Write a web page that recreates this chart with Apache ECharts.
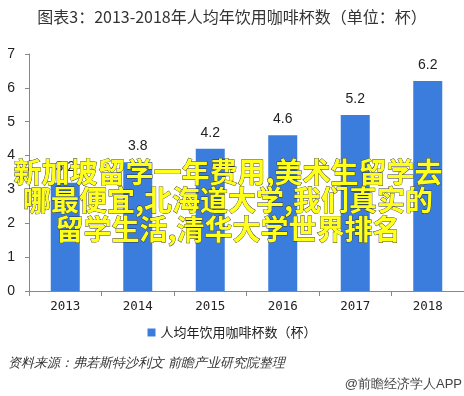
<!DOCTYPE html>
<html><head><meta charset="utf-8">
<script src="https://cdn.jsdelivr.net/npm/echarts@6/dist/echarts.min.js"></script>
<style>html,body{margin:0;padding:0;background:#fff}#c{width:464px;height:396px}</style>
</head><body><div id="c"></div>
<script>
const categories = ['2013','2014','2015','2016','2017','2018'];
const values = [3.2, 3.8, 4.2, 4.6, 5.2, 6.2];
const yTicks = [0,1,2,3,4,5,6,7];
const seriesName = '人均年饮用咖啡杯数（杯）';
const titleText = '图表3：2013-2018年人均年饮用咖啡杯数（单位：杯）';
const sourceText = '资料来源：弗若斯特沙利文 前瞻产业研究院整理';
const creditText = '@前瞻经济学人APP';
const overlayLines = ['新加坡留学一年费用,美术生留学去','哪最便宜,北海道大学,我们真实的','留学生活,清华大学世界排名'];

const chart = echarts.init(document.getElementById('c'), null, {renderer:'canvas'});
const font = '"Noto Sans CJK SC","Liberation Sans",sans-serif';
chart.setOption({
  animation:false,
  backgroundColor:'#fff',
  title:{text:titleText,left:'center',top:4,textStyle:{fontSize:16,fontWeight:'normal',color:'#333',fontFamily:font}},
  legend:{data:[seriesName],bottom:52,left:'center',itemWidth:8,itemHeight:8,itemGap:4,icon:'rect',
    textStyle:{fontSize:13,color:'#222',fontFamily:font}},
  grid:{left:29,top:54,width:444,height:237},
  xAxis:{type:'category',data:categories,
    axisLine:{lineStyle:{color:'#888'}},
    axisTick:{show:true,length:5,lineStyle:{color:'#888'}},
    axisLabel:{fontSize:12.5,color:'#222',margin:9,fontFamily:'"DejaVu Sans Mono","Liberation Mono",monospace'}},
  yAxis:{type:'value',min:yTicks[0],max:yTicks[yTicks.length-1],interval:1,
    axisLine:{show:true,lineStyle:{color:'#888'}},
    axisTick:{show:true,length:4,lineStyle:{color:'#888'}},
    splitLine:{show:false},
    axisLabel:{fontSize:14,color:'#222',margin:14,fontFamily:'"Liberation Sans",sans-serif'}},
  series:[{name:seriesName,type:'bar',data:values,barWidth:29,
    itemStyle:{color:'#3b7ddd'},
    label:{show:true,position:'top',distance:9,fontSize:14,color:'#222',fontFamily:'"Liberation Sans",sans-serif'}}],
  graphic:[
    {type:'text',left:8,top:357,style:{text:sourceText,fontSize:13,fontStyle:'italic',fill:'#333',font:'italic 13px '+font}},
    {type:'text',right:2,top:378,style:{text:creditText,fontSize:13,fill:'#444',font:'13px '+font}},
    ...overlayLines.map((t,i)=>({type:'text',x:228,y:172+i*28.5,z:100,
      style:{text:t,textAlign:'center',textVerticalAlign:'middle',
        font:'bold 28px "Noto Sans CJK SC",sans-serif',fill:'#ffff1a',stroke:'#333',lineWidth:0.8}}))
  ]
});
</script></body></html>
